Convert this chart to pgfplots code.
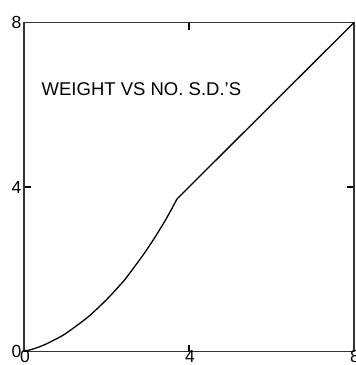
\documentclass[border=0pt]{standalone}
\usepackage{pgfplots}
\pgfplotsset{compat=1.18}
\usepackage{fontspec}
\setmainfont{Liberation Sans}
\begin{document}
\begin{tikzpicture}[x=1pt,y=1pt]
\useasboundingbox (-24,-13.5) rectangle (332,351.5);
\begin{axis}[
  at={(0,0)}, anchor=south west,
  scale only axis, width=330pt, height=329pt,
  xmin=0, xmax=8, ymin=0, ymax=8,
  xtick={0,4,8}, ytick={0,4,8},
  tick align=inside, major tick length=7pt,
  xtick pos=both, ytick pos=both,
  xticklabel pos=lower, yticklabel pos=left,
  axis line style={line width=1.2pt, black!80},
  tick style={line width=1.1pt, black},
  /pgf/number format/assume math mode=true,
  ticklabel style={font=\fontsize{17.5}{17.5}\selectfont},
  xticklabel style={yshift=5pt, xshift=1pt},
  yticklabel style={xshift=1pt},
  clip=false,
]
\addplot[black, line width=1.3pt, smooth, tension=0.5] coordinates {
 (0,0) (0.25,0.07) (0.5,0.165) (0.73,0.28) (1.0,0.43) (1.54,0.83) (2.0,1.26) (2.35,1.64) (2.5,1.82) (2.96,2.45) (3.3,2.98) (3.5,3.32) (3.71,3.71)
};
\addplot[black, line width=1.3pt] coordinates {(3.71,3.71) (8,8)};
\node[anchor=west, font=\fontsize{18.5}{18.5}\selectfont, inner sep=0pt] at (rel axis cs:0.053,0.797) {WEIGHT VS NO. S.D.'S};
\end{axis}
\end{tikzpicture}
\end{document}
